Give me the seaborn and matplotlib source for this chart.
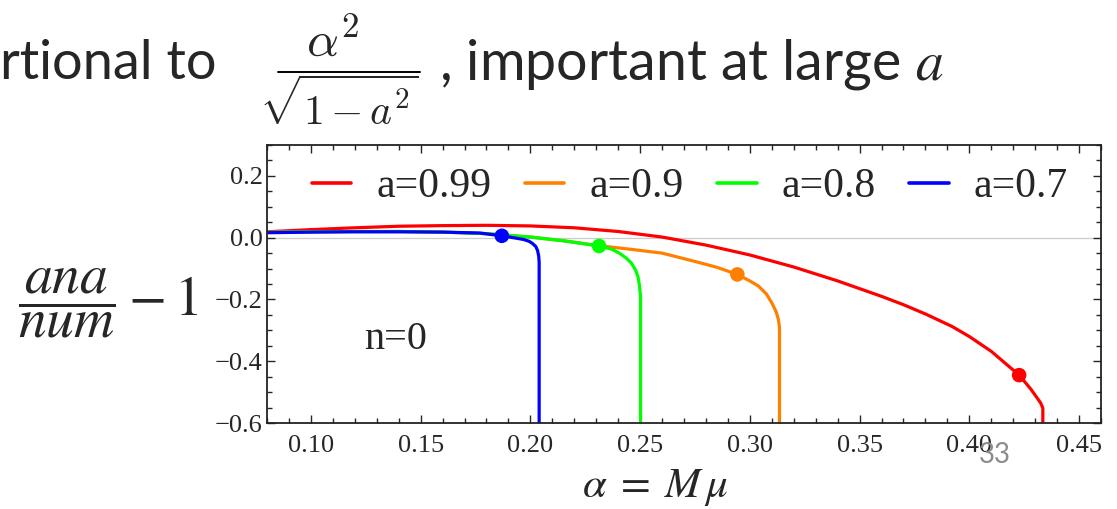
import pandas as pd
import matplotlib
matplotlib.use("Agg")
import matplotlib.pyplot as plt
import seaborn as sns
from matplotlib.lines import Line2D
from matplotlib.ticker import MultipleLocator

# values: alpha = M*mu vs (ana/num - 1), n=0
labels = ["a=0.99", "a=0.9", "a=0.8", "a=0.7"]
colors = ["#ff0000", "#ff8000", "#00ff00", "#0000ff"]

x_099 = [0.08, 0.10, 0.12, 0.14, 0.16, 0.18, 0.20, 0.22, 0.24, 0.26, 0.28, 0.30,
         0.32, 0.34, 0.36, 0.37, 0.38, 0.392, 0.40, 0.41, 0.4227, 0.428, 0.4325,
         0.4335, 0.4335]
y_099 = [0.019, 0.026, 0.032, 0.037, 0.039, 0.040, 0.038, 0.032, 0.020, 0.002, -0.024, -0.056,
         -0.095, -0.140, -0.190, -0.217, -0.247, -0.287, -0.320, -0.368, -0.445, -0.490, -0.535,
         -0.552, -0.60]

x_09 = [0.08, 0.10, 0.12, 0.14, 0.16, 0.18, 0.20, 0.215, 0.2313, 0.245, 0.26, 0.275,
        0.285, 0.2943, 0.300, 0.304, 0.3075, 0.310, 0.312, 0.313, 0.3135, 0.3135]
y_09 = [0.017, 0.019, 0.020, 0.020, 0.018, 0.013, 0.002, -0.010, -0.026, -0.037, -0.050, -0.077,
        -0.096, -0.119, -0.140, -0.157, -0.182, -0.211, -0.240, -0.265, -0.290, -0.60]

x_08 = [0.08, 0.10, 0.12, 0.14, 0.16, 0.18, 0.20, 0.215, 0.2313, 0.237, 0.2405, 0.2435,
        0.246, 0.2478, 0.249, 0.2497, 0.2502, 0.2502]
y_08 = [0.017, 0.019, 0.020, 0.020, 0.018, 0.013, 0.002, -0.010, -0.027, -0.037, -0.050, -0.065,
        -0.082, -0.103, -0.125, -0.155, -0.190, -0.60]

x_07 = [0.08, 0.10, 0.12, 0.14, 0.16, 0.177, 0.187, 0.193, 0.197, 0.1995, 0.201, 0.2025,
        0.2033, 0.2038, 0.204, 0.204]
y_07 = [0.016, 0.018, 0.019, 0.019, 0.018, 0.015, 0.006, -0.001, -0.006, -0.012, -0.019, -0.029,
        -0.042, -0.060, -0.080, -0.60]

dot_x = [0.4227, 0.2943, 0.2313, 0.187]
dot_y = [-0.445, -0.119, -0.027, 0.006]

curves = pd.concat([
    pd.DataFrame({"alpha": xs, "diff": ys, "spin": lab})
    for xs, ys, lab in zip([x_099, x_09, x_08, x_07], [y_099, y_09, y_08, y_07], labels)
], ignore_index=True)
dots = pd.DataFrame({"alpha": dot_x, "diff": dot_y, "spin": labels})

sns.set_style("ticks")
plt.rcParams["font.family"] = ["Liberation Serif", "DejaVu Serif"]
plt.rcParams["mathtext.fontset"] = "stix"

W, H = 1117, 509
fig = plt.figure(figsize=(W / 100, H / 100), dpi=100)
ax = fig.add_axes([267 / W, 1 - 423 / H, (1101 - 267) / W, (423 - 145) / H])

ax.axhline(0, color="#cccccc", lw=0.9, zorder=0)
sns.lineplot(data=curves, x="alpha", y="diff", hue="spin", hue_order=labels,
             palette=colors, sort=False, estimator=None, linewidth=2.3, ax=ax)
sns.scatterplot(data=dots, x="alpha", y="diff", hue="spin", hue_order=labels,
                palette=colors, s=110, edgecolor="none", legend=False, zorder=5, ax=ax)

ax.set_xlim(0.08, 0.46)
ax.set_ylim(-0.6, 0.3)
ax.xaxis.set_minor_locator(MultipleLocator(0.01))
ax.yaxis.set_minor_locator(MultipleLocator(0.05))
ax.set_xticks([0.10, 0.15, 0.20, 0.25, 0.30, 0.35, 0.40, 0.45])
ax.set_xticklabels(["0.10", "0.15", "0.20", "0.25", "0.30", "0.35", "0.40", "0.45"])
ax.set_yticks([-0.6, -0.4, -0.2, 0.0, 0.2])
ax.set_yticklabels(["\u22120.6", "\u22120.4", "\u22120.2", "0.0", "0.2"])
ax.tick_params(which="both", direction="in", top=True, right=True, labelsize=19, width=1)
ax.tick_params(which="major", length=6)
ax.tick_params(which="minor", length=3.5)
ax.tick_params(axis="x", pad=9)
ax.tick_params(axis="y", pad=3)
for sp in ax.spines.values():
    sp.set_visible(True)
    sp.set_linewidth(1.3)
    sp.set_color("#222222")
ax.set_xlabel("")
ax.set_ylabel("")

handles, labs = ax.get_legend_handles_labels()
leg = ax.legend(handles, labs, ncol=4, frameon=False, loc="center",
                bbox_to_anchor=(0.507, 0.849), fontsize=30, handlelength=0.95,
                handletextpad=0.6, columnspacing=0.8)
for h in leg.get_lines():
    h.set_linewidth(2.6)

ax.text(0.1385, -0.33, "n=0", fontsize=29, ha="center", va="center")

# slide text around the plot
fig.text(0.0, 1 - 79 / H, "rtional to", family="Lato", fontsize=39, ha="left", va="baseline")
fig.text(333 / W, 1 - 57 / H, r"$\alpha^2$", fontsize=36, math_fontfamily="cm",
         ha="center", va="baseline")
fig.add_artist(Line2D([278 / W, 420 / W], [1 - 72 / H, 1 - 72 / H], color="black", lw=1.4))
fig.text(339 / W, 1 - 125 / H, r"$\sqrt{1\,{-}\,a^2}$", fontsize=30, math_fontfamily="cm",
         ha="center", va="baseline")
fig.text(439 / W, 1 - 79 / H, ", important at large $a$", family="Lato", fontsize=40,
         ha="left", va="baseline")
fig.text(18 / W, 1 - 303 / H, r"$\dfrac{ana}{num} - 1$", fontsize=40, ha="left", va="center")
fig.text(655 / W, 1 - 497 / H, r"$\alpha\;=\;M\,\mu$", fontsize=31, ha="center", va="baseline")
fig.text(995 / W, 1 - 455 / H, "33", family="Lato", fontsize=20, color="#8c8c8c",
         ha="center", va="center")

fig.savefig("out.png", dpi=100, facecolor="white")
